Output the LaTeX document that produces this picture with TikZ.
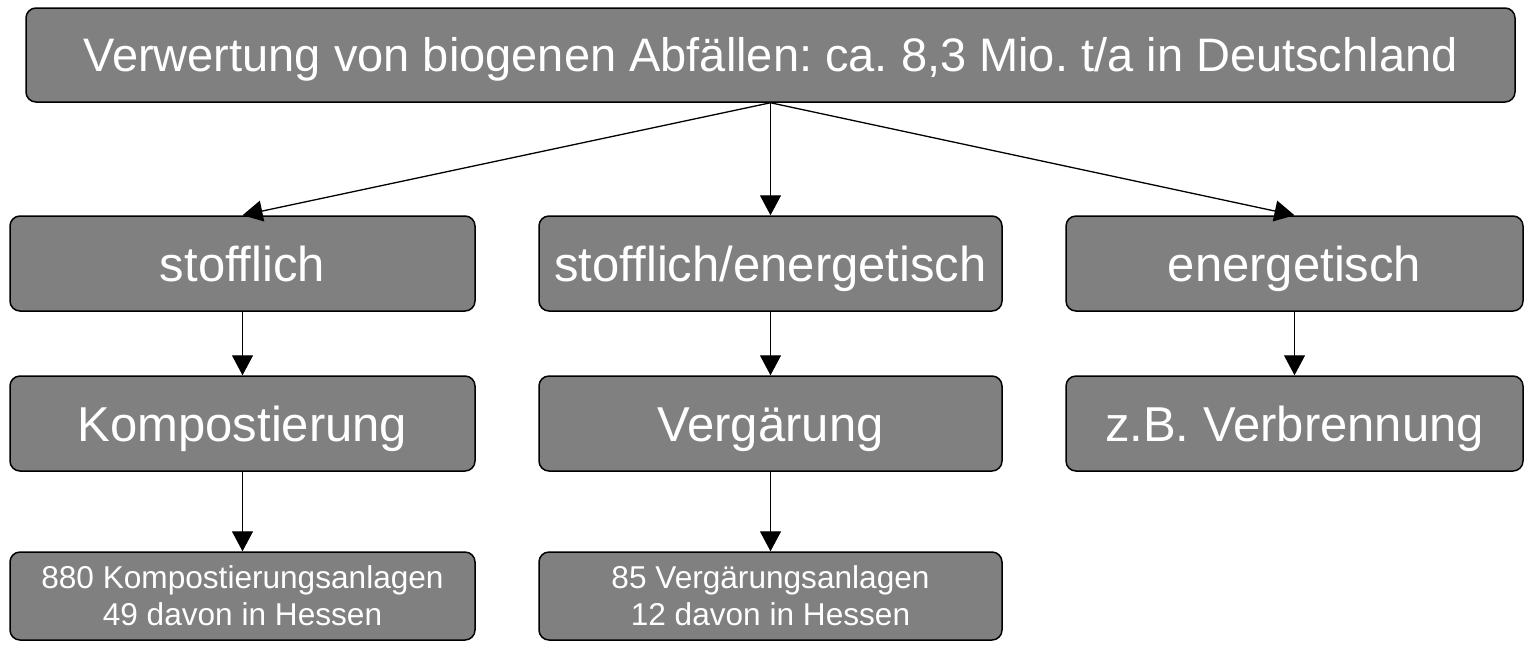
\documentclass[tikz,border=0pt]{standalone}
\usepackage{fontspec}
\setmainfont{Liberation Sans}
\frenchspacing
\usetikzlibrary{arrows.meta}
\definecolor{boxgray}{RGB}{128,128,128}
\tikzset{
  kasten/.style={draw, line width=0.75pt, fill=boxgray, rounded corners=5pt,
    text=white, inner sep=0pt, align=center,
    font=\fontsize{24.5}{29}\selectfont, text height=17.5pt, text depth=0pt},
  klein/.style={font=\fontsize{15.8}{18.5}\selectfont, text height=, text depth=},
  pfeil/.style={-{Triangle[length=10pt,width=10.5pt]}, line width=0.65pt}
}
\begin{document}
\begin{tikzpicture}[x=0.5pt,y=-0.5pt]
  \useasboundingbox (0,0) rectangle (1524,644);
  % Kopf
  \node[kasten, font=\fontsize{23.5}{29}\selectfont, text height=16.8pt,
    minimum width=744.5pt, minimum height=47pt] (kopf) at (770.5,55)
    {Verwertung von biogenen Abfällen: ca. 8,3 Mio. t/a in Deutschland};
  % Art der Verwertung
  \node[kasten, minimum width=232.5pt, minimum height=47.5pt] (stoff) at (242.5,263.5) {stofflich};
  \node[kasten, minimum width=231.5pt, minimum height=47.5pt] (stoffen) at (770.5,263.5) {stofflich/energetisch};
  \node[kasten, minimum width=228.5pt, minimum height=47.5pt] (energ) at (1294.5,263.5) {energetisch};
  % Verfahren
  \node[kasten, minimum width=232.5pt, minimum height=47.5pt] (kompost) at (242.5,423.5) {Kompostierung};
  \node[kasten, minimum width=231.5pt, minimum height=47.5pt] (vergaer) at (770.5,423.5) {Vergärung};
  \node[kasten, minimum width=228.5pt, minimum height=47.5pt] (verbrenn) at (1294.5,423.5) {z.B. Verbrennung};
  % Anlagen
  \node[kasten, klein, minimum width=232.5pt, minimum height=44pt] (kanl) at (242.5,596)
    {880 Kompostierungsanlagen\\49 davon in Hessen};
  \node[kasten, klein, minimum width=231.5pt, minimum height=44pt] (vanl) at (770.5,596)
    {85 Vergärungsanlagen\\12 davon in Hessen};

  \draw[pfeil] (kopf.south) -- (stoff.north);
  \draw[pfeil] (kopf.south) -- (stoffen.north);
  \draw[pfeil] (kopf.south) -- (energ.north);
  \draw[pfeil] (stoff) -- (kompost);
  \draw[pfeil] (stoffen) -- (vergaer);
  \draw[pfeil] (energ) -- (verbrenn);
  \draw[pfeil] (kompost) -- (kanl);
  \draw[pfeil] (vergaer) -- (vanl);
\end{tikzpicture}
\end{document}
